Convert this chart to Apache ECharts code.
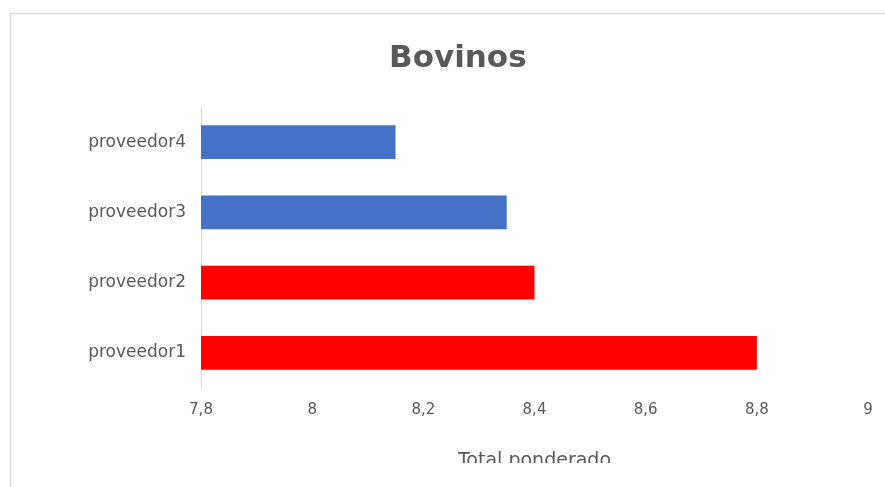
<!DOCTYPE html>
<html>
<head>
<meta charset="utf-8">
<script src="https://cdn.jsdelivr.net/npm/echarts@6/dist/echarts.min.js"></script>
<style>
html, body { margin: 0; padding: 0; background: #fff; }
#box1 { width: 885px; height: 487px; }
</style>
</head>
<body>
<div id="box1"></div>
<script>
/*Bovinos*/
var categories = ['proveedor1', 'proveedor2', 'proveedor3', 'proveedor4'];
var values = [8.80, 8.40, 8.35, 8.15];
var barColors = ['#FF0000', '#FF0000', '#4472C4', '#4472C4'];

var dom = document.getElementById("box1");
var myChart = echarts.init(dom);

option = {
    animation: false,
    title: {
        text: 'Bovinos',
        left: 384,
        top: 38,
        textStyle: { fontFamily: 'DejaVu Sans', fontSize: 31, fontWeight: 'bold', color: '#595959' }
    },
    grid: { left: 201, right: 17, top: 107, bottom: 99, containLabel: false },
    xAxis: {
        type: 'value',
        min: 7.8,
        max: 9,
        interval: 0.2,
        name: 'Total ponderado',
        nameLocation: 'middle',
        nameGap: 64,
        nameTextStyle: { fontFamily: 'DejaVu Sans', fontSize: 19, color: '#595959' },
        axisLine: { show: false },
        axisTick: { show: false },
        splitLine: { show: false },
        axisLabel: {
            margin: 15,
            fontFamily: 'DejaVu Sans',
            fontSize: 15,
            color: '#595959',
            formatter: function (v) { return String(Math.round(v * 10) / 10).replace('.', ','); }
        }
    },
    yAxis: {
        type: 'category',
        data: categories,
        axisLine: { show: true, lineStyle: { color: '#d9d9d9', width: 1 } },
        axisTick: { show: false },
        axisLabel: { margin: 15, fontFamily: 'DejaVu Sans', fontSize: 17, color: '#595959' }
    },
    series: [
        {
            type: 'bar',
            barWidth: '48%',
            data: values.map(function (v, i) {
                return { value: v, itemStyle: { color: barColors[i] } };
            })
        }
    ],
    graphic: [
        { type: 'rect', shape: { x: 0, y: 463, width: 885, height: 24 }, style: { fill: '#fff' }, z: 100 },
        { type: 'polyline', shape: { points: [[10.5, 487], [10.5, 13.5], [885, 13.5]] },
          style: { stroke: '#d9d9d9', fill: null, lineWidth: 1.5 }, z: 101 }
    ]
};

if (option && typeof option === "object") {
    myChart.setOption(option, true);
}
</script>
</body>
</html>
